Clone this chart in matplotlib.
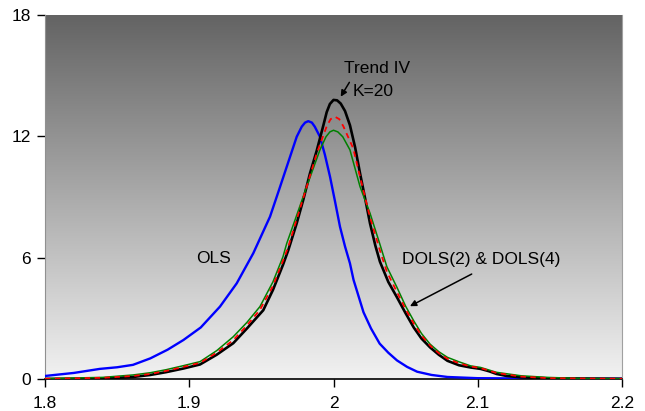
import numpy as np
import matplotlib
matplotlib.use("Agg")
import matplotlib.pyplot as plt
from matplotlib.colors import LinearSegmentedColormap

plt.rcParams['font.family'] = ['Liberation Sans', 'DejaVu Sans']

# OLS (blue)
ols_x = [1.800, 1.820, 1.838, 1.850, 1.861, 1.873, 1.885, 1.896, 1.908, 1.9213,
         1.9329, 1.9444, 1.956, 1.962, 1.9676, 1.9745, 1.978, 1.9803, 1.9825, 1.985,
         1.987, 1.9906, 1.994, 1.9976, 2.001, 2.0045, 2.008, 2.0114, 2.0139, 2.0208,
         2.026, 2.032, 2.038, 2.044, 2.051, 2.058, 2.068, 2.079, 2.100, 2.150,
         2.200]
ols_y = [0.15, 0.30, 0.50, 0.58, 0.70, 1.02, 1.45, 1.93, 2.55, 3.58,
         4.73, 6.22, 8.03, 9.30, 10.50, 11.98, 12.48, 12.68, 12.75, 12.68,
         12.48, 11.98, 11.10, 10.00, 8.80, 7.53, 6.55, 5.72, 4.90, 3.30,
         2.50, 1.75, 1.30, 0.92, 0.60, 0.36, 0.20, 0.10, 0.04, 0.02,
         0.01]

# Trend IV, K=20 (black)
trend_x = [1.800, 1.840, 1.861, 1.873, 1.884, 1.896, 1.9075, 1.919, 1.9305, 1.940,
           1.9513, 1.958, 1.965, 1.9687, 1.9745, 1.979, 1.9837, 1.9884, 1.993, 1.9953,
           1.9975, 2.0, 2.0025, 2.005, 2.008, 2.0114, 2.015, 2.0184, 2.022, 2.0253,
           2.029, 2.0322, 2.038, 2.044, 2.050, 2.0556, 2.061, 2.067, 2.073, 2.079,
           2.087, 2.095, 2.102, 2.108, 2.113, 2.120, 2.130, 2.150, 2.200]
trend_y = [0.00, 0.02, 0.10, 0.20, 0.34, 0.52, 0.72, 1.20, 1.77, 2.50,
           3.40, 4.40, 5.65, 6.38, 7.70, 8.85, 10.17, 11.30, 12.55, 13.20,
           13.60, 13.80, 13.78, 13.62, 13.25, 12.55, 11.45, 10.17, 8.90, 7.70,
           6.60, 5.80, 4.80, 4.04, 3.25, 2.55, 2.00, 1.56, 1.20, 0.90,
           0.68, 0.57, 0.50, 0.38, 0.25, 0.15, 0.08, 0.03, 0.01]

# DOLS(2) (red dashed)
dols2_x = [1.800, 1.840, 1.861, 1.873, 1.884, 1.896, 1.9075, 1.919, 1.9305, 1.940,
           1.949, 1.958, 1.965, 1.9687, 1.9745, 1.9814, 1.9884, 1.9953, 1.998, 2.001,
           2.004, 2.0068, 2.0137, 2.0184, 2.0253, 2.032, 2.037, 2.044, 2.050, 2.0556,
           2.061, 2.067, 2.073, 2.079, 2.087, 2.095, 2.102, 2.113, 2.130, 2.150,
           2.200]
dols2_y = [0.01, 0.06, 0.15, 0.25, 0.40, 0.60, 0.80, 1.30, 1.92, 2.65,
           3.42, 4.60, 5.85, 6.55, 7.90, 9.50, 11.16, 12.50, 12.85, 12.97,
           12.85, 12.50, 11.40, 10.00, 8.00, 6.40, 5.30, 4.30, 3.45, 2.75,
           2.15, 1.65, 1.28, 1.00, 0.78, 0.62, 0.54, 0.30, 0.12, 0.04,
           0.01]

# DOLS(4) (green)
dols4_x = [1.800, 1.840, 1.861, 1.873, 1.884, 1.896, 1.9075, 1.919, 1.9305, 1.940,
           1.949, 1.958, 1.965, 1.9676, 1.974, 1.9814, 1.9906, 1.9948, 1.9975, 2.000,
           2.003, 2.0064, 2.0114, 2.0184, 2.0253, 2.032, 2.037, 2.044, 2.050, 2.0556,
           2.061, 2.067, 2.073, 2.079, 2.087, 2.095, 2.102, 2.113, 2.130, 2.148,
           2.170, 2.200]
dols4_y = [0.02, 0.08, 0.20, 0.31, 0.46, 0.66, 0.86, 1.40, 2.09, 2.80,
           3.58, 4.80, 6.05, 6.71, 8.00, 9.51, 11.33, 11.98, 12.22, 12.30,
           12.22, 11.98, 11.33, 9.51, 8.20, 6.70, 5.55, 4.53, 3.60, 2.88,
           2.25, 1.72, 1.35, 1.07, 0.85, 0.65, 0.57, 0.33, 0.16, 0.08,
           0.03, 0.01]

x_ticks = [1.8, 1.9, 2.0, 2.1, 2.2]
x_tick_labels = ["1.8", "1.9", "2", "2.1", "2.2"]
y_ticks = [0, 6, 12, 18]

fig = plt.figure(figsize=(6.45, 4.11), dpi=100)
ax = fig.add_axes([45 / 645, 1 - 379 / 411, 577 / 645, 364 / 411])

# grey gradient background, dark on top
cmap = LinearSegmentedColormap.from_list("bg", ["#f2f2f2", "#636363"])
grad = np.linspace(0, 1, 256).reshape(-1, 1)
ax.imshow(grad, cmap=cmap, origin="lower", extent=[1.8, 2.2, 0, 18],
          aspect="auto", zorder=0, interpolation="bicubic")

ax.plot(ols_x, ols_y, color="#0000ff", lw=1.7, zorder=3)
ax.plot(trend_x, trend_y, color="black", lw=1.9, zorder=4)
ax.plot(dols4_x, dols4_y, color="#008000", lw=1.1, zorder=5)
ax.plot(dols2_x, dols2_y, color="#ff0000", lw=1.3, ls=(0, (3, 2.5)), zorder=6)

ax.set_xlim(1.8, 2.2)
ax.set_ylim(0, 18)
ax.set_xticks(x_ticks)
ax.set_xticklabels(x_tick_labels)
ax.set_yticks(y_ticks)
ax.tick_params(axis="both", direction="out", length=6, width=1, labelsize=12.5,
               colors="black")
ax.tick_params(axis="x", pad=6)
ax.tick_params(axis="y", pad=4)

ax.spines["top"].set_visible(False)
ax.spines["right"].set_color("#a0a0a0")
ax.spines["right"].set_linewidth(0.8)
ax.spines["left"].set_color("#909090")
ax.spines["left"].set_linewidth(0.8)
ax.spines["bottom"].set_color("black")
ax.spines["bottom"].set_linewidth(1.2)

ax.text(1.9167, 5.97, "OLS", fontsize=12.5, ha="center", va="center")
ax.text(2.030, 15.37, "Trend IV", fontsize=12.5, ha="center", va="center")
ax.text(2.0276, 14.21, "K=20", fontsize=12.5, ha="center", va="center")
ax.annotate("", xy=(2.005, 13.96), xytext=(2.011, 14.67),
            arrowprops=dict(arrowstyle="-|>", color="black", lw=1.1,
                            mutation_scale=9, shrinkA=0, shrinkB=0))
ax.text(2.1026, 5.89, "DOLS(2) & DOLS(4)", fontsize=12.5, ha="center", va="center")
ax.annotate("", xy=(2.053, 3.6), xytext=(2.0958, 5.19),
            arrowprops=dict(arrowstyle="-|>", color="black", lw=1.1,
                            mutation_scale=9, shrinkA=0, shrinkB=0))

plt.savefig("out.png", dpi=100)
plt.close()
